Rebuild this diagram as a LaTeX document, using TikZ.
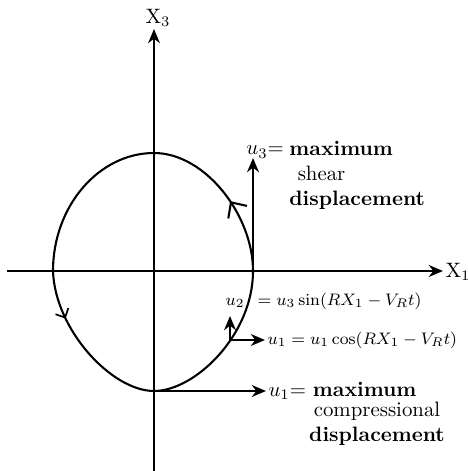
\documentclass[tikz,border=0pt]{standalone}
\usepackage{amsmath,amssymb}
\usepackage{tikz}
\usetikzlibrary{arrows.meta,decorations.markings}

\begin{document}
\begin{tikzpicture}[x=0.48pt, y=-0.48pt, every node/.style={font=\normalsize}, >={Stealth[length=2.4mm, width=2mm]},
	axis/.style={line width=1pt},
	disp/.style={->, line width=1pt},
	eqn/.style={font=\footnotesize, inner sep=1pt},
	orbit/.style={line width=1pt, postaction={decorate}, decoration={markings,
		mark=at position 0.11 with {\arrow{Straight Barb[length=2mm, width=3.8mm, line width=1pt]}},
		mark=at position 0.575 with {\arrow{Straight Barb[length=1.2mm, width=2.4mm, line width=0.8pt]}}}}]
	\useasboundingbox (0,0) rectangle (467,471);
	\coordinate (Xleft) at (7,271);
	\coordinate (Xbot) at (154,471);
	\node[anchor=west, inner sep=1pt] (X1) at (443,272) {X$_1$};
	\node[anchor=south, inner sep=1pt] (X3) at (158,29) {X$_3$};
	\draw[axis, ->] (Xleft) -- (X1.west |- Xleft);
	\draw[axis, ->] (Xbot) -- (X3.south -| Xbot);
	\coordinate (R) at (253,271);
	\coordinate (T) at (154,153);
	\coordinate (L) at (53,271);
	\coordinate (B) at (154,391);
	\coordinate (P) at (230,340);
	\draw[orbit] (R) .. controls (253,215) and (205,153) .. (T)
		.. controls (99,153) and (53,206) .. (L)
		.. controls (55,330) and (112,391) .. (B)
		.. controls (195,391) and (253,335) .. (R);
	\coordinate (u3tip) at (253,158);
	\coordinate (u2tip) at (230,316);
	\draw[disp] (R) -- (u3tip);
	\draw[disp] (P) -- (u2tip);
	\node[anchor=base west, inner sep=0pt] (u3lbl) at (246,155) {$u_3$=};
	\node[anchor=north west, align=left, inner sep=0pt] (shear) at (289,141) {\textbf{maximum}\\ \hspace{4pt}shear\\ \textbf{displacement}};
	\node[eqn, anchor=base west] (u2lbl) at (223,305) {$u_2\hspace{4pt}= u_3\sin(RX_1-V_Rt)$};
	\node[eqn, anchor=west] (u1c) at (265,340) {$u_1=u_1\cos(RX_1-V_Rt)$};
	\draw[disp] (P) -- (u1c.west);
	\node[anchor=west, inner sep=1pt] (u1m) at (266,391) {$u_1$= \textbf{maximum}};
	\draw[disp] (B) -- (u1m.west);
	\node[anchor=north, align=center, inner sep=0pt] (comp) at (377,402) {compressional\\ \textbf{displacement}};
\end{tikzpicture}
\end{document}
